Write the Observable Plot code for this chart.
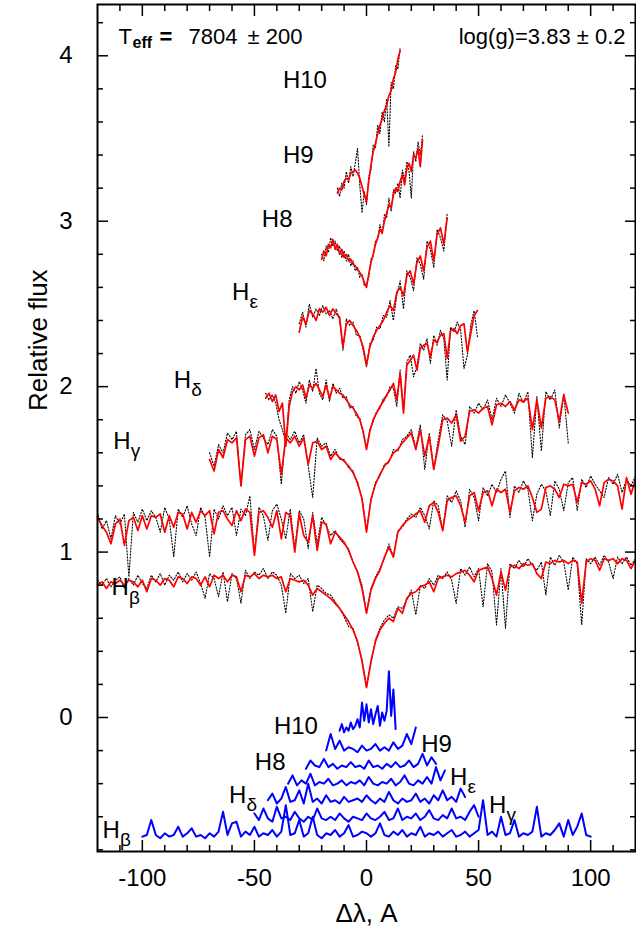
<!DOCTYPE html>
<html><head><meta charset="utf-8">
<script src="https://cdn.jsdelivr.net/npm/d3@7"></script>
<script src="https://cdn.jsdelivr.net/npm/@observablehq/plot@0.6"></script>
<style>body{margin:0;background:#fff}</style>
</head><body><div id="chart"></div>
<script>
// ---- axes ticks ----
const xMajor = [-100, -50, 0, 50, 100];
const xMinor = [-110,-90,-80,-70,-60,-40,-30,-20,-10,10,20,30,40,60,70,80,90,110];
const yMajor = [0, 1, 2, 3, 4];
const yMinor = [-0.8,-0.6,-0.4,-0.2,0.2,0.4,0.6,0.8,1.2,1.4,1.6,1.8,2.2,2.4,2.6,2.8,3.2,3.4,3.6,3.8,4.2];

// ---- spectra (wavelength grid start / step, relative flux values) ----
// s1: lowest spectrum (Hbeta)
const s1Start = -120, s1Step = 2;
const s1Model = [
0.80,0.82,0.78,0.82,0.81,0.83,0.80,0.83,0.82,0.79,
0.83,0.76,0.84,0.83,0.80,0.84,0.83,0.79,0.85,0.84,
0.81,0.85,0.84,0.80,0.85,0.79,0.86,0.84,0.86,0.82,
0.86,0.85,0.76,0.86,0.85,0.87,0.84,0.86,0.85,0.86,
0.84,0.85,0.76,0.84,0.83,0.82,0.83,0.80,0.74,0.78,
0.76,0.74,0.72,0.69,0.66,0.62,0.58,0.53,0.46,0.34,
0.18,0.34,0.46,0.53,0.57,0.60,0.58,0.66,0.63,0.72,
0.75,0.76,0.79,0.80,0.82,0.76,0.84,0.85,0.86,0.85,
0.87,0.88,0.89,0.86,0.82,0.89,0.90,0.91,0.84,0.74,
0.88,0.77,0.91,0.92,0.90,0.93,0.92,0.93,0.87,0.84,
0.94,0.93,0.95,0.94,0.95,0.93,0.95,0.94,0.69,0.94,
0.96,0.95,0.89,0.96,0.95,0.96,0.93,0.96,0.95,0.90,
0.95];
const s1Obs = [
0.83,0.80,0.84,0.79,0.83,0.85,0.78,0.84,0.80,0.86,
0.81,0.78,0.86,0.82,0.87,0.80,0.86,0.83,0.88,0.82,
0.87,0.83,0.88,0.81,0.72,0.87,0.84,0.73,0.88,0.70,
0.87,0.84,0.69,0.89,0.84,0.88,0.86,0.90,0.84,0.88,
0.86,0.80,0.63,0.87,0.84,0.86,0.81,0.84,0.64,0.80,
0.78,0.75,0.74,0.70,0.66,0.61,0.55,0.54,0.45,0.35,
0.19,0.33,0.47,0.54,0.59,0.62,0.60,0.67,0.66,0.71,
0.77,0.62,0.80,0.78,0.84,0.80,0.86,0.84,0.88,0.83,
0.69,0.90,0.86,0.91,0.85,0.90,0.67,0.93,0.88,0.56,
0.90,0.54,0.93,0.90,0.95,0.91,0.96,0.92,0.89,0.94,
0.74,0.97,0.92,0.98,0.94,0.77,0.97,0.93,0.56,0.96,
0.93,0.97,0.92,0.98,0.94,0.84,0.97,0.93,0.97,0.92,
0.96];

// s2
const s2Start = -120, s2Step = 2;
const s2Model = [
1.21,1.16,1.12,1.05,1.17,1.20,1.04,1.19,1.21,1.13,
1.22,1.14,1.22,1.21,1.23,1.12,1.22,1.15,1.24,1.23,
1.14,1.24,1.18,1.25,1.22,1.25,1.11,1.24,1.25,1.20,
1.16,1.25,1.19,1.26,1.24,0.98,1.24,1.25,1.21,1.15,
1.25,1.08,1.24,1.22,1.00,1.23,1.10,1.06,1.22,1.01,
1.18,1.17,1.05,1.12,1.09,1.06,1.01,0.94,0.88,0.78,
0.63,0.77,0.84,0.89,0.97,1.03,0.97,1.12,1.16,1.19,
1.21,1.23,1.25,1.18,1.28,1.30,1.24,1.13,1.31,1.33,
1.34,1.28,1.18,1.34,1.36,1.25,1.36,1.37,1.28,1.38,
1.36,1.38,1.24,1.37,1.39,1.38,1.40,1.33,1.24,1.26,
1.39,1.40,1.38,1.33,1.41,1.40,1.41,1.30,1.42,1.41,
1.43,1.38,1.28,1.42,1.44,1.43,1.40,1.26,1.45,1.35,
1.44];
const s2Obs = [
1.24,1.14,1.19,1.08,1.22,1.17,1.23,0.85,1.24,1.18,
1.26,1.19,1.25,1.21,1.12,1.27,1.20,0.97,1.26,1.21,
1.28,1.17,1.10,1.27,1.21,0.97,1.26,1.20,1.28,1.22,
1.27,1.10,1.26,1.22,1.34,0.99,1.27,1.22,1.07,1.25,
1.29,1.20,1.08,1.26,1.02,1.25,1.20,1.02,1.24,1.05,
1.21,1.16,1.10,1.13,1.08,1.05,1.02,0.94,0.88,0.80,
0.64,0.78,0.85,0.90,0.96,1.05,0.97,1.13,1.15,1.20,
1.23,1.21,1.27,1.22,1.14,1.31,1.28,1.13,1.34,1.30,
1.37,1.31,1.15,1.38,1.33,1.19,1.39,1.34,1.41,1.36,
1.44,1.49,1.21,1.40,1.36,1.43,1.38,1.19,1.35,1.41,
1.37,1.22,1.43,1.38,1.25,1.42,1.45,1.25,1.44,1.39,
1.46,1.41,1.37,1.33,1.45,1.41,1.47,1.36,1.44,1.40,
1.46];

// s3
const s3Start = -70, s3Step = 2;
const s3Model = [
1.56,1.49,1.62,1.57,1.68,1.66,1.69,1.40,1.68,1.70,
1.58,1.69,1.71,1.60,1.70,1.68,1.47,1.69,1.66,1.70,
1.64,1.69,1.53,1.66,1.67,1.62,1.64,1.56,1.60,1.57,
1.55,1.52,1.48,1.42,1.32,1.12,1.32,1.41,1.47,1.52,
1.55,1.60,1.62,1.66,1.69,1.72,1.62,1.74,1.58,1.70,
1.50,1.64,1.80,1.81,1.78,1.83,1.67,1.70,1.85,1.86,
1.84,1.87,1.88,1.77,1.89,1.90,1.88,1.91,1.86,1.92,
1.91,1.93,1.74,1.92,1.75,1.93,1.94,1.92,1.79,1.95,
1.84];
const s3Obs = [
1.60,1.52,1.65,1.60,1.72,1.68,1.73,1.40,1.71,1.74,
1.62,1.73,1.69,1.65,1.74,1.70,1.41,1.72,1.68,1.73,
1.66,1.71,1.52,1.33,1.69,1.64,1.66,1.58,1.62,1.56,
1.56,1.51,1.49,1.41,1.33,1.13,1.31,1.42,1.46,1.53,
1.54,1.62,1.61,1.68,1.70,1.74,1.63,1.77,1.50,1.72,
1.50,1.68,1.83,1.79,1.64,1.86,1.70,1.65,1.88,1.84,
1.90,1.86,1.92,1.80,1.93,1.88,1.95,1.90,1.84,1.96,
1.90,1.97,1.57,1.94,1.61,1.97,1.92,1.98,1.75,1.96,
1.66];

// s4
const s4Start = -45, s4Step = 1.5;
const s4Model = [
1.93,1.96,1.91,1.95,1.85,1.90,1.64,1.88,1.97,2.00,
1.98,2.01,1.93,2.01,1.99,2.02,1.98,1.94,2.01,1.93,
2.00,1.98,1.96,1.95,1.92,1.89,1.87,1.84,1.80,1.73,
1.62,1.73,1.80,1.84,1.88,1.91,1.95,1.98,2.02,1.92,
2.08,1.84,2.13,2.16,2.19,2.10,2.23,2.25,2.26,2.18,
2.28,2.27,2.31,2.32,2.17,2.34,2.35,2.32,2.37,2.38,
2.21,2.32,2.43,2.46];
const s4Obs = [
1.96,1.92,1.95,1.90,1.80,1.74,1.66,1.92,2.00,1.96,
2.03,1.98,1.90,2.04,1.97,2.11,1.96,1.92,2.04,1.91,
2.02,1.96,1.99,1.93,1.94,1.87,1.88,1.82,1.81,1.72,
1.63,1.74,1.79,1.85,1.87,1.93,1.94,2.00,1.99,1.88,
2.10,1.86,2.15,2.19,2.06,2.12,2.26,2.22,2.29,2.14,
2.31,2.25,2.34,2.29,2.04,2.36,2.33,2.39,2.34,2.11,
2.19,2.37,2.46,2.30];

// s5
const s5Start = -30, s5Step = 1.5;
const s5Model = [
2.33,2.42,2.38,2.46,2.44,2.40,2.47,2.45,2.48,2.43,
2.47,2.44,2.42,2.24,2.38,2.40,2.37,2.34,2.30,2.24,
2.13,2.24,2.30,2.34,2.37,2.40,2.45,2.49,2.46,2.57,
2.60,2.55,2.67,2.70,2.62,2.75,2.79,2.70,2.84,2.88,
2.76,2.92,2.96,2.86,3.02];
const s5Obs = [
2.38,2.45,2.36,2.50,2.42,2.47,2.43,2.49,2.44,2.46,
2.41,2.47,2.40,2.22,2.41,2.37,2.39,2.31,2.31,2.22,
2.12,2.26,2.28,2.36,2.35,2.43,2.42,2.52,2.40,2.55,
2.64,2.47,2.70,2.66,2.58,2.78,2.74,2.65,2.88,2.83,
2.72,2.95,2.90,2.82,3.05];

// s6
const s6Start = -20, s6Step = 1;
const s6Model = [
2.77,2.82,2.79,2.86,2.84,2.89,2.83,2.86,2.80,2.83,
2.78,2.80,2.76,2.77,2.74,2.73,2.71,2.69,2.67,2.63,
2.60,2.68,2.75,2.80,2.86,2.90,2.95,2.93,3.00,3.05,
3.10,3.08,3.16,3.20,3.18,3.24,3.28,3.22,3.32,3.35,
3.30,3.40,3.38,3.44,3.33,3.49];
const s6Obs = [
2.80,2.76,2.85,2.81,2.90,2.85,2.88,2.82,2.85,2.78,
2.82,2.76,2.80,2.73,2.76,2.70,2.72,2.66,2.68,2.61,
2.62,2.66,2.77,2.79,2.88,2.89,2.98,2.92,3.04,3.02,
3.14,3.06,3.19,3.17,3.23,3.14,3.31,3.25,3.36,3.30,
3.14,3.42,3.36,3.48,3.40,3.52];

// s7: top spectrum
const s7Start = -13, s7Step = 1;
const s7Model = [
3.17,3.20,3.19,3.24,3.26,3.25,3.29,3.30,3.31,3.29,
3.26,3.21,3.16,3.12,3.24,3.34,3.42,3.47,3.53,3.58,
3.62,3.67,3.70,3.76,3.79,3.86,3.90,3.98,4.03];
const s7Obs = [
3.20,3.15,3.23,3.20,3.30,3.23,3.33,3.27,3.35,3.44,
3.22,3.05,3.18,3.10,3.27,3.31,3.46,3.44,3.58,3.53,
3.66,3.60,3.74,3.45,3.84,3.80,3.94,3.92,4.05];

// ---- residuals (blue) ----
const r1Start = -100, r1Step = 2;
const r1 = [
-0.72,-0.71,-0.62,-0.71,-0.73,-0.70,-0.72,-0.71,-0.66,-0.72,
-0.70,-0.67,-0.72,-0.71,-0.73,-0.70,-0.72,-0.69,-0.57,-0.71,
-0.64,-0.63,-0.72,-0.69,-0.71,-0.66,-0.72,-0.70,-0.71,-0.68,
-0.72,-0.69,-0.53,-0.71,-0.70,-0.62,-0.72,-0.70,-0.60,-0.71,
-0.73,-0.70,-0.71,-0.68,-0.72,-0.70,-0.65,-0.72,-0.71,-0.69,
-0.70,-0.72,-0.70,-0.64,-0.71,-0.72,-0.69,-0.71,-0.68,-0.72,
-0.70,-0.71,-0.66,-0.72,-0.70,-0.71,-0.69,-0.72,-0.70,-0.68,
-0.72,-0.71,-0.69,-0.72,-0.70,-0.68,-0.50,-0.71,-0.69,-0.72,
-0.60,-0.71,-0.70,-0.62,-0.72,-0.70,-0.71,-0.69,-0.54,-0.72,
-0.70,-0.71,-0.68,-0.64,-0.72,-0.62,-0.71,-0.66,-0.58,-0.71,
-0.72];
const r2Start = -50, r2Step = 2;
const r2 = [
-0.58,-0.62,-0.55,-0.61,-0.63,-0.54,-0.61,-0.60,-0.62,-0.57,
-0.61,-0.63,-0.60,-0.62,-0.55,-0.61,-0.62,-0.60,-0.62,-0.58,
-0.61,-0.63,-0.60,-0.61,-0.62,-0.58,-0.61,-0.62,-0.60,-0.57,
-0.62,-0.61,-0.55,-0.62,-0.60,-0.61,-0.58,-0.62,-0.60,-0.56,
-0.61,-0.62,-0.59,-0.61,-0.55,-0.61,-0.60,-0.62,-0.57,-0.53,
-0.60];
const r3Start = -44, r3Step = 2;
const r3 = [
-0.50,-0.46,-0.52,-0.49,-0.42,-0.51,-0.50,-0.44,-0.52,-0.40,
-0.51,-0.49,-0.52,-0.47,-0.51,-0.50,-0.52,-0.48,-0.51,-0.50,
-0.49,-0.51,-0.47,-0.50,-0.52,-0.49,-0.51,-0.45,-0.50,-0.52,
-0.49,-0.51,-0.50,-0.46,-0.51,-0.49,-0.52,-0.47,-0.50,-0.44,
-0.50,-0.48,-0.51,-0.43,-0.48];
const r4Start = -35, r4Step = 2;
const r4 = [
-0.40,-0.35,-0.41,-0.38,-0.40,-0.34,-0.41,-0.39,-0.40,-0.37,
-0.41,-0.40,-0.38,-0.41,-0.39,-0.40,-0.38,-0.41,-0.36,-0.40,
-0.41,-0.39,-0.40,-0.37,-0.41,-0.39,-0.35,-0.40,-0.41,-0.38,
-0.40,-0.36,-0.40,-0.30,-0.38,-0.32];
const r5Start = -27, r5Step = 2;
const r5 = [
-0.31,-0.26,-0.29,-0.30,-0.25,-0.30,-0.28,-0.31,-0.29,-0.30,
-0.27,-0.30,-0.29,-0.31,-0.26,-0.30,-0.29,-0.31,-0.28,-0.30,
-0.27,-0.30,-0.29,-0.26,-0.30,-0.28,-0.22,-0.29,-0.24,-0.28];
const r6Start = -18, r6Step = 2;
const r6 = [
-0.20,-0.10,-0.19,-0.14,-0.20,-0.18,-0.19,-0.21,-0.17,-0.20,
-0.19,-0.16,-0.20,-0.18,-0.20,-0.15,-0.19,-0.17,-0.10,-0.16,
-0.06];
const r7Start = -12, r7Step = 1;
const r7 = [
-0.08,-0.04,-0.09,-0.06,-0.08,-0.03,-0.07,-0.05,-0.01,-0.06,
0.09,-0.02,0.08,-0.03,0.05,-0.04,0.02,0.07,-0.05,0.03,
-0.02,0.04,0.28,0.01,0.17,-0.07];

// ---- labels ----
const specNames = ["H10", "H9", "H8", "H", "H", "H", "H"];
const specSubs  = ["", "", "", "ε", "δ", "γ", "β"];
const specLabelX = [-37.3, -37.3, -46.7, -60.0, -86.0, -113.0, -113.8];
const specLabelY = [3.85, 3.40, 3.01, 2.57, 2.04, 1.67, 0.785];
const resNames = ["H10", "H9", "H8", "H", "H", "H", "H"];
const resSubs  = ["", "", "", "ε", "δ", "γ", "β"];
const resLabelX = [-41.3, 24.4, -49.8, 37.3, -61.3, 54.7, -117.8];
const resLabelY = [-0.056, -0.165, -0.27, -0.36, -0.47, -0.53, -0.68];

// ---- build tables ----
const pts = (x0, dx, ys) => ys.map((y, i) => ({x: x0 + i * dx, y}));
const models = [
  pts(s1Start, s1Step, s1Model), pts(s2Start, s2Step, s2Model), pts(s3Start, s3Step, s3Model),
  pts(s4Start, s4Step, s4Model), pts(s5Start, s5Step, s5Model), pts(s6Start, s6Step, s6Model),
  pts(s7Start, s7Step, s7Model)];
const observed = [
  pts(s1Start, s1Step, s1Obs), pts(s2Start, s2Step, s2Obs), pts(s3Start, s3Step, s3Obs),
  pts(s4Start, s4Step, s4Obs), pts(s5Start, s5Step, s5Obs), pts(s6Start, s6Step, s6Obs),
  pts(s7Start, s7Step, s7Obs)];
const residuals = [
  pts(r1Start, r1Step, r1), pts(r2Start, r2Step, r2), pts(r3Start, r3Step, r3),
  pts(r4Start, r4Step, r4), pts(r5Start, r5Step, r5), pts(r6Start, r6Step, r6),
  pts(r7Start, r7Step, r7)];
const specLabels = specNames.map((t, i) => ({t, s: specSubs[i], x: specLabelX[i], y: specLabelY[i]}));
const resLabels = resNames.map((t, i) => ({t, s: resSubs[i], x: resLabelX[i], y: resLabelY[i]}));

const font = "Liberation Sans, Arial, Helvetica, sans-serif";
const labelMarks = (data) => [
  Plot.text(data, {x: "x", y: "y", text: "t", textAnchor: "start", lineAnchor: "middle", fontSize: 24, fill: "black"}),
  Plot.text(data, {x: "x", y: "y", text: "s", textAnchor: "start", lineAnchor: "middle", fontSize: 19, dx: 17.5, dy: 10, fill: "black"})
];

const chart = Plot.plot({
  width: 636,
  height: 935,
  marginLeft: 97,
  marginRight: 1,
  marginTop: 4,
  marginBottom: 84,
  style: {fontFamily: font, background: "white", color: "black"},
  x: {domain: [-120, 120]},
  y: {domain: [-0.81, 4.31]},
  marks: [
    ...observed.map(d => Plot.line(d, {x: "x", y: "y", stroke: "black", strokeWidth: 1.1, strokeDasharray: "1.2,1.8"})),
    ...models.map(d => Plot.line(d, {x: "x", y: "y", stroke: "#ff0000", strokeWidth: 1.7})),
    ...residuals.map(d => Plot.line(d, {x: "x", y: "y", stroke: "#0000ff", strokeWidth: 2})),
    ...labelMarks(specLabels),
    ...labelMarks(resLabels),
    // top annotations
    Plot.text(["T"], {frameAnchor: "top-left", dx: 21, dy: 24, textAnchor: "start", fontSize: 22}),
    Plot.text(["eff"], {frameAnchor: "top-left", dx: 35, dy: 32, textAnchor: "start", fontSize: 16, fontWeight: "bold"}),
    Plot.text(["="], {frameAnchor: "top-left", dx: 62, dy: 24, textAnchor: "start", fontSize: 22, fontWeight: "bold"}),
    Plot.text(["7804"], {frameAnchor: "top-left", dx: 91, dy: 24, textAnchor: "start", fontSize: 22}),
    Plot.text(["± 200"], {frameAnchor: "top-left", dx: 150, dy: 24, textAnchor: "start", fontSize: 22}),
    Plot.text(["log(g)=3.83 ± 0.2"], {frameAnchor: "top-right", dx: -10, dy: 24, textAnchor: "end", fontSize: 22}),
    // axis titles
    Plot.text(["Relative flux"], {frameAnchor: "left", dx: -59, dy: -17, rotate: -90, fontSize: 26}),
    Plot.text(["Δλ, A"], {frameAnchor: "bottom", dy: 70, fontSize: 26}),
    // ticks (inward)
    Plot.axisX({anchor: "bottom", ticks: xMajor, tickSize: -11, fill: "none", label: null, strokeWidth: 1.5}),
    Plot.axisX({anchor: "bottom", ticks: xMinor, tickSize: -6, fill: "none", label: null, strokeWidth: 1.5}),
    Plot.axisX({anchor: "top", ticks: xMajor, tickSize: -11, fill: "none", label: null, strokeWidth: 1.5}),
    Plot.axisX({anchor: "top", ticks: xMinor, tickSize: -6, fill: "none", label: null, strokeWidth: 1.5}),
    Plot.axisY({anchor: "left", ticks: yMajor, tickSize: -11, fill: "none", label: null, strokeWidth: 1.5}),
    Plot.axisY({anchor: "left", ticks: yMinor, tickSize: -6, fill: "none", label: null, strokeWidth: 1.5}),
    Plot.axisY({anchor: "right", ticks: yMajor, tickSize: -11, fill: "none", label: null, strokeWidth: 1.5}),
    Plot.axisY({anchor: "right", ticks: yMinor, tickSize: -6, fill: "none", label: null, strokeWidth: 1.5}),
    // tick labels
    Plot.axisX({anchor: "bottom", ticks: xMajor, tickSize: 0, tickPadding: 17, fontSize: 24, label: null, tickFormat: d => String(d)}),
    Plot.axisY({anchor: "left", ticks: yMajor, tickSize: 0, tickPadding: 25, fontSize: 24, label: null, tickFormat: d => String(d)}),
    Plot.frame({stroke: "black", strokeWidth: 2})
  ]
});
document.getElementById("chart").append(chart);
</script>
</body></html>
